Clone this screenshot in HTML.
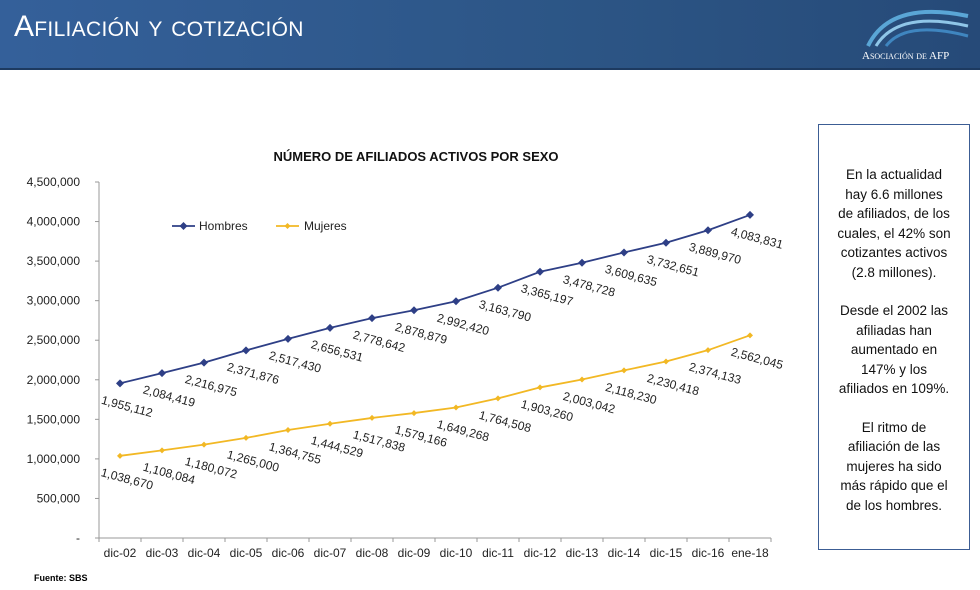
<!DOCTYPE html>
<html><head><meta charset="utf-8"><style>
body{margin:0;width:980px;height:590px;background:#fff;position:relative;overflow:hidden;font-family:"Liberation Sans",sans-serif}
#hdr{position:absolute;left:0;top:0;width:980px;height:68px;background:linear-gradient(90deg,#34609a,#2c5585 60%,#264a78);border-bottom:2px solid #1d3a60}
#title{position:absolute;left:14px;top:10px;color:#fff;font-size:30px;font-variant:small-caps;letter-spacing:0.3px}
#logo{position:absolute;left:862px;top:50px;color:#fff;font-size:11px;font-variant:small-caps;font-family:"Liberation Serif",serif}
#box{position:absolute;left:818px;top:124px;width:152px;height:426px;border:1.5px solid #3c5d94;box-sizing:border-box;text-align:center;font-size:13.5px;line-height:19.5px;color:#111;padding-top:40px;white-space:nowrap}
#box p{margin:0 0 19px 0}
#src{position:absolute;left:34px;top:573px;font-size:9px;font-weight:bold}
</style></head><body>
<div id="hdr">
<div id="title">Afiliación y cotización</div>
<svg style="position:absolute;left:860px;top:4px" width="110" height="44"><path d="M8 42 Q30 -4 108 12" stroke="#5aa6d6" stroke-width="4" fill="none"/><path d="M16 42 Q38 6 108 22" stroke="#8fc6e8" stroke-width="3" fill="none"/><path d="M26 42 Q46 16 108 32" stroke="#3f86c0" stroke-width="3" fill="none"/></svg>
<div id="logo">Asociación de AFP</div>
</div>
<svg id="chart" width="980" height="590" style="position:absolute;left:0;top:0"></svg>
<div id="box">
<p>En la actualidad<br>hay 6.6 millones<br>de afiliados, de los<br>cuales, el 42% son<br>cotizantes activos<br>(2.8 millones).</p>
<p>Desde el 2002 las<br>afiliadas han<br>aumentado en<br>147% y los<br>afiliados en 109%.</p>
<p>El ritmo de<br>afiliación de las<br>mujeres ha sido<br>más rápido que el<br>de los hombres.</p>
</div>
<div id="src">Fuente: SBS</div>
<script>
const categories=["dic-02","dic-03","dic-04","dic-05","dic-06","dic-07","dic-08","dic-09","dic-10","dic-11","dic-12","dic-13","dic-14","dic-15","dic-16","ene-18"];
const hombres=[1955112,2084419,2216975,2371876,2517430,2656531,2778642,2878879,2992420,3163790,3365197,3478728,3609635,3732651,3889970,4083831];
const mujeres=[1038670,1108084,1180072,1265000,1364755,1444529,1517838,1579166,1649268,1764508,1903260,2003042,2118230,2230418,2374133,2562045];
const yTicks=[0,500000,1000000,1500000,2000000,2500000,3000000,3500000,4000000,4500000];
const NS="http://www.w3.org/2000/svg";
const svg=document.getElementById('chart');
const X0=99,X1=771,Y0=538,Y1=182,YMAX=4500000;
const bw=(X1-X0)/categories.length;
const x=i=>X0+bw*(i+0.5);
const y=v=>Y0-(v/YMAX)*(Y0-Y1);
const fmt=v=>v.toLocaleString('en-US');
function mk(t,a){const e=document.createElementNS(NS,t);for(const k in a)e.setAttribute(k,a[k]);svg.appendChild(e);return e;}
let t=mk('text',{x:416,y:161,'text-anchor':'middle','font-size':13,'font-weight':'bold',fill:'#111'});t.textContent='NÚMERO DE AFILIADOS ACTIVOS POR SEXO';


let ax=mk('line',{x1:X0,y1:Y1,x2:X0,y2:Y0,stroke:'#999'});


let bx=mk('line',{x1:X0,y1:Y0,x2:X1,y2:Y0,stroke:'#999'});


yTicks.forEach(v=>{
 mk('line',{x1:X0-4,y1:y(v),x2:X0,y2:y(v),stroke:'#999'});
 const e=mk('text',{x:80,y:y(v)+4,'text-anchor':'end','font-size':12,fill:'#222'});
 e.textContent=v===0?'-':fmt(v);
 
 
});
categories.forEach((c,i)=>{
 mk('line',{x1:X0+bw*i,y1:Y0,x2:X0+bw*i,y2:Y0+4,stroke:'#999'});
 const e=mk('text',{x:x(i),y:557,'text-anchor':'middle','font-size':12,fill:'#222'});
 e.textContent=c;
 
 
});
mk('line',{x1:X1,y1:Y0,x2:X1,y2:Y0+4,stroke:'#999'});
function series(data,color,name,diamond){
 const p=mk('polyline',{points:data.map((v,i)=>x(i)+','+y(v)).join(' '),fill:'none',stroke:color,'stroke-width':1.8});
 
 
 data.forEach((v,i)=>{
  const cx=x(i),cy=y(v),s=diamond?4:3;
  const m=mk('path',{d:`M${cx} ${cy-s}L${cx+s} ${cy}L${cx} ${cy+s}L${cx-s} ${cy}Z`,fill:color});
  
  
  const lx=cx+6,ly=cy+27;
  const l=mk('text',{x:lx,y:ly,'text-anchor':'middle','font-size':12,fill:'#222',transform:`rotate(15 ${lx} ${ly})`});
  l.textContent=fmt(v);
  
  
 });
}
series(hombres,'#2e3f86','hombres',true);
series(mujeres,'#f2b824','mujeres',false);
mk('line',{x1:172,y1:226,x2:195,y2:226,stroke:'#2e3f86','stroke-width':1.8});
mk('path',{d:'M183.5 222L187.5 226L183.5 230L179.5 226Z',fill:'#2e3f86'});
let l1=mk('text',{x:199,y:230,'font-size':12,fill:'#222'});l1.textContent='Hombres';


mk('line',{x1:276,y1:226,x2:299,y2:226,stroke:'#f2b824','stroke-width':1.8});
mk('path',{d:'M287.5 223L290.5 226L287.5 229L284.5 226Z',fill:'#f2b824'});
let l2=mk('text',{x:304,y:230,'font-size':12,fill:'#222'});l2.textContent='Mujeres';


</script>
</body></html>
